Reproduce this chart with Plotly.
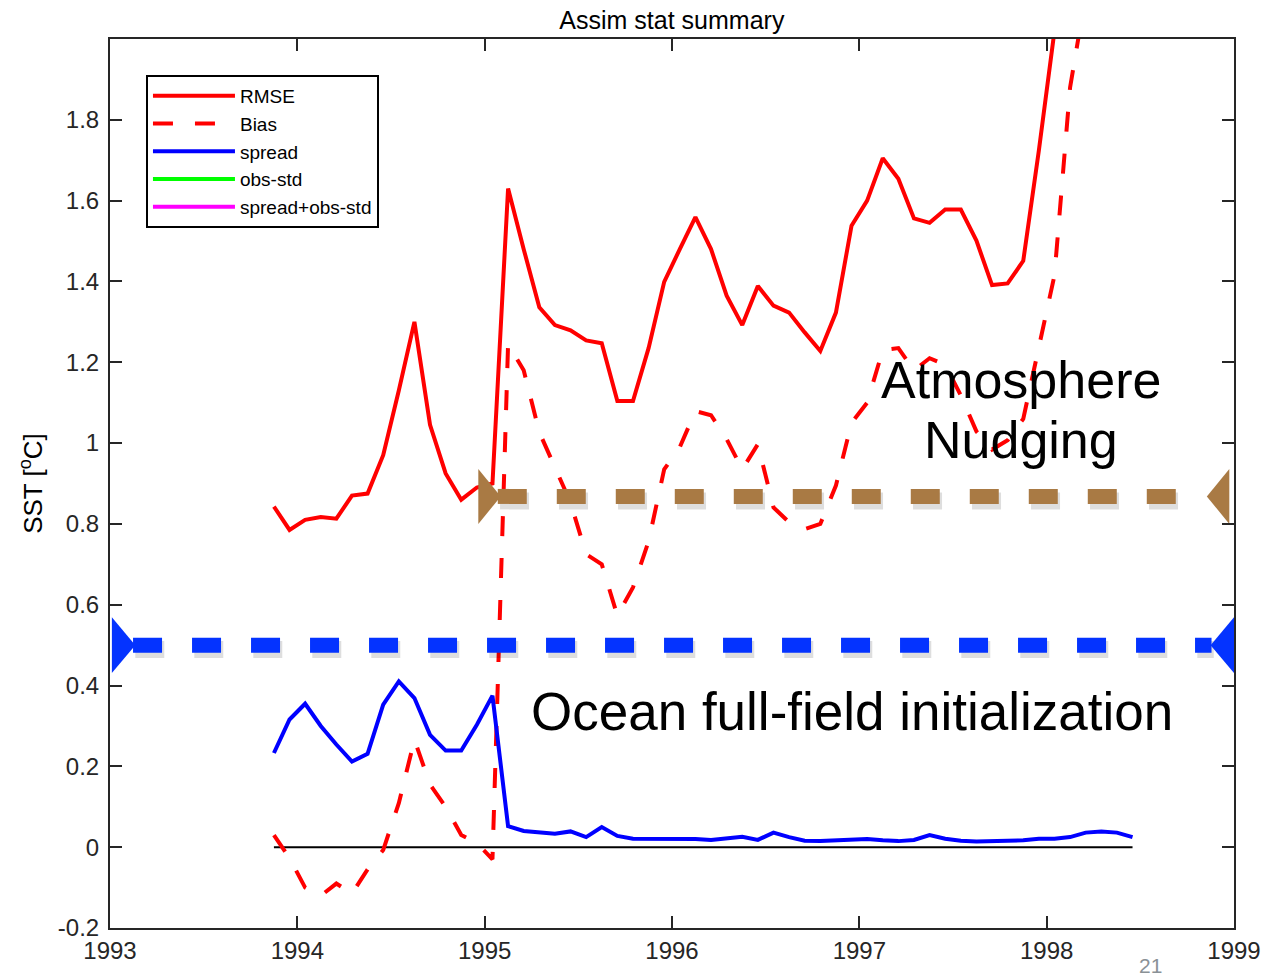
import plotly.graph_objects as go

# ---------------- data (monthly, Nov 1993 onward, mid-month) ----------------
rmse = [0.843, 0.785, 0.81, 0.817, 0.813, 0.87, 0.875, 0.97, 1.13, 1.30,
        1.045, 0.925, 0.86, 0.89, 0.90, 1.63, 1.48, 1.336, 1.292, 1.279,
        1.254, 1.247, 1.104, 1.104, 1.235, 1.399, 1.48, 1.559, 1.48, 1.365,
        1.292, 1.389, 1.34, 1.323, 1.274, 1.228, 1.323, 1.538, 1.60, 1.705,
        1.654, 1.556, 1.545, 1.578, 1.578, 1.501, 1.391, 1.395, 1.451, 1.724,
        2.02]
bias = [0.03, -0.027, -0.10, -0.12, -0.09, -0.115, -0.055, -0.007, 0.109, 0.266,
        0.155, 0.10, 0.03, 0.01, -0.03, 1.245, 1.18, 1.027, 0.94, 0.853,
        0.725, 0.70, 0.573, 0.643, 0.757, 0.935, 0.99, 1.079, 1.069, 1.01,
        0.935, 0.997, 0.841, 0.804, 0.787, 0.80, 0.895, 1.05, 1.10, 1.23,
        1.235, 1.18, 1.21, 1.194, 1.118, 1.029, 0.984, 1.007, 1.06, 1.24,
        1.415, 1.88, 2.11]
spread = [0.233, 0.316, 0.355, 0.30, 0.254, 0.212, 0.231, 0.353, 0.41, 0.369,
          0.278, 0.239, 0.239, 0.303, 0.375, 0.052, 0.040, 0.036, 0.033, 0.039,
          0.025, 0.05, 0.028, 0.021, 0.021, 0.022, 0.021, 0.020, 0.018, 0.023,
          0.026, 0.018, 0.036, 0.025, 0.016, 0.015, 0.017, 0.018, 0.020, 0.017,
          0.015, 0.018, 0.030, 0.021, 0.016, 0.014, 0.014, 0.016, 0.017, 0.021,
          0.021, 0.025, 0.036, 0.039, 0.036, 0.025]
# not visible anywhere in the plot (legend entries only)
obs_std = [None]
spread_plus_obs_std = [None]

first_year = 1993
first_month_mid = 10.5   # mid-November (0-based month index)

x_ticks = [1993, 1994, 1995, 1996, 1997, 1998, 1999]
x_tick_labels = ["1993", "1994", "1995", "1996", "1997", "1998", "1999"]
y_ticks = [-0.2, 0, 0.2, 0.4, 0.6, 0.8, 1.0, 1.2, 1.4, 1.6, 1.8]
y_tick_labels = ["-0.2", "0", "0.2", "0.4", "0.6", "0.8", "1", "1.2", "1.4", "1.6", "1.8"]

# periods highlighted on the slide: (start, end, level)
ocean_init_period = (1993.0, 1999.0, 0.5)
nudging_period = (1994.966, 1998.975, 0.868)


def months(n):
    return [first_year + (first_month_mid + k) / 12.0 for k in range(n)]


FONT = "Liberation Sans, Arial, Helvetica, sans-serif"
fig = go.Figure()

# zero reference line
fig.add_trace(go.Scatter(x=months(len(spread)), y=[0] * len(spread), mode="lines",
                         line=dict(color="black", width=2), showlegend=False,
                         hoverinfo="skip"))

fig.add_trace(go.Scatter(x=months(len(rmse)), y=rmse, mode="lines", name="RMSE",
                         line=dict(color="#ff0000", width=4)))
fig.add_trace(go.Scatter(x=months(len(bias)), y=bias, mode="lines", name="Bias",
                         line=dict(color="#ff0000", width=4, dash="20px,22px")))
fig.add_trace(go.Scatter(x=months(len(spread)), y=spread, mode="lines", name="spread",
                         line=dict(color="#0000ff", width=4)))
fig.add_trace(go.Scatter(x=months(len(obs_std)), y=obs_std, mode="lines", name="obs-std",
                         line=dict(color="#00ff00", width=4)))
fig.add_trace(go.Scatter(x=months(len(spread_plus_obs_std)), y=spread_plus_obs_std,
                         mode="lines", name="spread+obs-std",
                         line=dict(color="#ff00ff", width=4)))


def add_period_arrow(period, color, tri_w=0.125, tri_h=0.069, dash_start=0.12, dash_end=0.12):
    x0, x1, lev = period
    xs = [x0 + dash_start, x1 - dash_end]
    # soft shadow
    fig.add_trace(go.Scatter(x=[v + 0.012 for v in xs], y=[lev - 0.011] * 2, mode="lines",
                             line=dict(color="rgba(0,0,0,0.13)", width=17, dash="29px,30px"),
                             showlegend=False, hoverinfo="skip"))
    fig.add_trace(go.Scatter(x=xs, y=[lev] * 2, mode="lines",
                             line=dict(color=color, width=15, dash="29px,30px"),
                             showlegend=False, hoverinfo="skip"))
    # arrow heads pointing inward
    fig.add_trace(go.Scatter(x=[x0, x0 + tri_w, x0, x0], y=[lev + tri_h, lev, lev - tri_h, lev + tri_h],
                             mode="lines", fill="toself", fillcolor=color,
                             line=dict(color=color, width=0), showlegend=False, hoverinfo="skip"))
    fig.add_trace(go.Scatter(x=[x1, x1 - tri_w, x1, x1], y=[lev + tri_h, lev, lev - tri_h, lev + tri_h],
                             mode="lines", fill="toself", fillcolor=color,
                             line=dict(color=color, width=0), showlegend=False, hoverinfo="skip"))


add_period_arrow((ocean_init_period[0] + 0.01, ocean_init_period[1], ocean_init_period[2]),
                 "#0433ff", tri_w=0.125, tri_h=0.069, dash_start=0.113, dash_end=0.12)
add_period_arrow(nudging_period, "#a97a44", tri_w=0.12, tri_h=0.068, dash_start=0.104, dash_end=0.13)

axis_common = dict(showline=True, linecolor="#262626", linewidth=2, mirror="ticks",
                   ticks="inside", ticklen=12, tickwidth=2, tickcolor="#262626",
                   showgrid=False, zeroline=False,
                   tickfont=dict(family=FONT, size=24, color="#262626"))

fig.update_xaxes(range=[1993, 1999], tickvals=x_ticks, ticktext=x_tick_labels, **axis_common)
fig.update_yaxes(range=[-0.2, 2.0], tickvals=y_ticks, ticktext=y_tick_labels,
                 ticklabelstandoff=4,
                 title=dict(text="SST [<sup>o</sup>C]", font=dict(family=FONT, size=26, color="black"),
                            standoff=8),
                 **axis_common)

fig.add_annotation(x=1997.861, y=1.156, xref="x", yref="y", text="Atmosphere", showarrow=False,
                   font=dict(family=FONT, size=52, color="black"))
fig.add_annotation(x=1997.861, y=1.007, xref="x", yref="y", text="Nudging", showarrow=False,
                   font=dict(family=FONT, size=52, color="black"))
fig.add_annotation(x=1996.963, y=0.335, xref="x", yref="y", text="Ocean full-field initialization",
                   showarrow=False, font=dict(family=FONT, size=53, color="black"))
fig.add_annotation(x=0.9253, y=(928 - 979) / 889, xref="paper", yref="paper",
                   xanchor="center", yanchor="bottom",
                   text="21", showarrow=False,
                   font=dict(family=FONT, size=21, color="#8a9196"))

fig.update_layout(
    width=1281, height=979,
    margin=dict(l=110, r=47, t=39, b=51),
    plot_bgcolor="white", paper_bgcolor="white",
    title=dict(text="Assim stat summary", x=0.5245, xanchor="center", y=1 - 20 / 979,
               yanchor="middle", yref="container",
               font=dict(family=FONT, size=25, color="black")),
    legend=dict(x=0.032, y=0.9595, xanchor="left", yanchor="top",
                bgcolor="white", bordercolor="black", borderwidth=2,
                font=dict(family=FONT, size=19, color="black"),
                itemwidth=82, tracegroupgap=0),
    showlegend=True,
)

fig.write_html("out.html")
